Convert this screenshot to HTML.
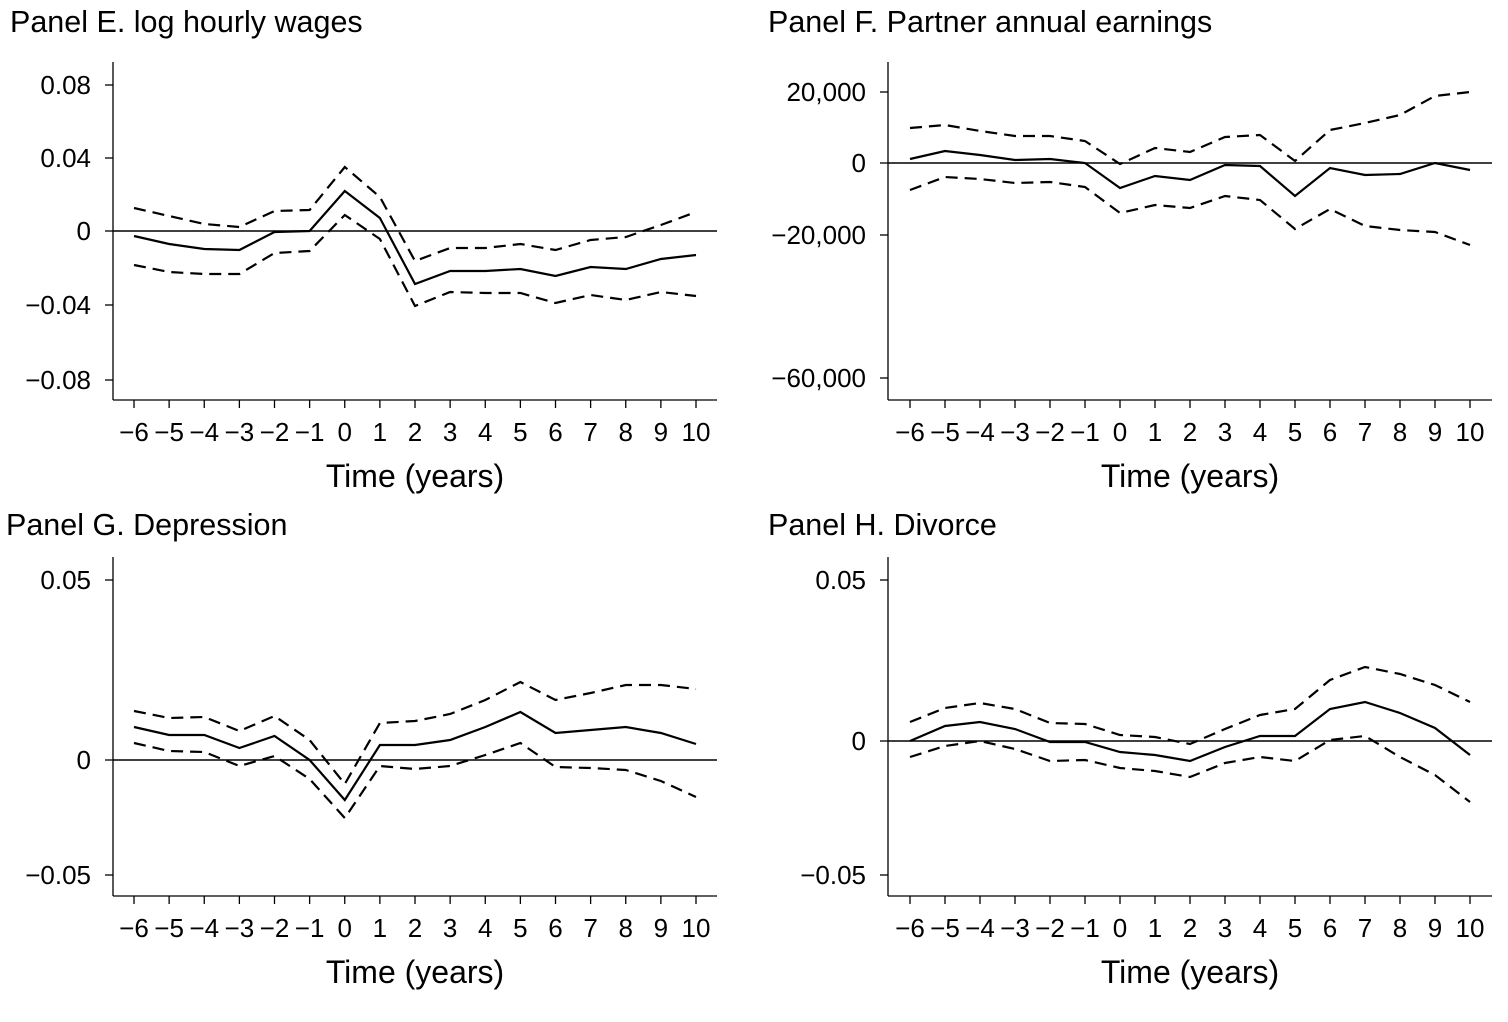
<!DOCTYPE html>
<html><head><meta charset="utf-8"><style>body{margin:0;background:#fff}svg{display:block}text{font-family:"Liberation Sans",Arial,sans-serif;fill:#000}</style></head>
<body>
<svg id="s" width="1508" height="1022" xmlns="http://www.w3.org/2000/svg"></svg>
<script>
const s=document.getElementById('s');let h='';
function panel(o){
 const {ax,x0,dx,top,bot,right,title,tx,ty,yt,zero,sol,up,lo}=o;
 h+=`<text x="${tx}" y="${ty}" font-size="30.5">${title}</text>`;
 h+=`<line x1="${ax}" y1="${top}" x2="${ax}" y2="${bot}" stroke="#000" stroke-width="1.3"/>`;
 h+=`<line x1="${ax}" y1="${bot}" x2="${right}" y2="${bot}" stroke="#000" stroke-width="1.3"/>`;
 h+=`<line x1="${ax}" y1="${zero}" x2="${right}" y2="${zero}" stroke="#000" stroke-width="1.5"/>`;
 yt.forEach(([l,y])=>{h+=`<line x1="${ax-8}" y1="${y}" x2="${ax}" y2="${y}" stroke="#000" stroke-width="1.3"/><text x="${ax-22}" y="${y+9}" font-size="26">${l}</text>`;});
 h=h.replace(/<text x="(\d+)" y="(\d+)" font-size="26">/g,'<text x="$1" y="$2" font-size="26" text-anchor="end">');
 for(let i=0;i<17;i++){const x=x0+dx*i,v=i-6;h+=`<line x1="${x}" y1="${bot}" x2="${x}" y2="${bot+8}" stroke="#000" stroke-width="1.3"/><text x="${x}" y="${bot+41}" font-size="26" text-anchor="middle">${v<0?'−'+(-v):v}</text>`;}
 h+=`<text x="${(x0+x0+16*dx)/2}" y="${bot+87}" font-size="32" text-anchor="middle">Time (years)</text>`;
 const pts=a=>a.map((y,i)=>(x0+dx*i).toFixed(1)+','+y).join(' ');
 h+=`<polyline points="${pts(sol)}" fill="none" stroke="#000" stroke-width="2.2"/>`;
 h+=`<polyline points="${pts(up)}" fill="none" stroke="#000" stroke-width="2.2" stroke-dasharray="12,7"/>`;
 h+=`<polyline points="${pts(lo)}" fill="none" stroke="#000" stroke-width="2.2" stroke-dasharray="12,7"/>`;
}
panel({ax:113,x0:134,dx:35.125,top:62,bot:400,right:717,title:"Panel E. log hourly wages",tx:10,ty:32,zero:231,
 yt:[["0.08",85],["0.04",158],["0",231],["−0.04",305],["−0.08",380]],
 sol:[236,244,249,250,232,231,191,218,284,271,271,269,276,267,269,259,255],
 up:[208,216,224,227,211,210,167,197,261,248,248,244,250,240,237,225,212],
 lo:[265,272,274,274,253,251,215,239,306,292,293,293,303,295,300,292,296]});
panel({ax:888,x0:910,dx:35,top:62,bot:400,right:1492,title:"Panel F. Partner annual earnings",tx:768,ty:32,zero:163,
 yt:[["20,000",92],["0",163],["−20,000",235],["−60,000",378]],
 sol:[159,151,155,160,159,163,188,176,180,165,166,196,168,175,174,163,170],
 up:[128,125,131,136,136,141,164,148,152,137,135,161,130,123,115,96,92],
 lo:[190,177,179,183,182,187,213,205,208,196,200,229,209,226,230,232,245]});
panel({ax:113,x0:134,dx:35.125,top:557,bot:896,right:717,title:"Panel G. Depression",tx:6,ty:535,zero:760,
 yt:[["0.05",580],["0",760],["−0.05",875]],
 sol:[727,735,735,748,736,760,800,745,745,740,727,712,733,730,727,733,744],
 up:[711,718,717,731,716,740,784,723,721,714,700,682,700,693,685,685,689],
 lo:[743,751,752,766,756,779,818,766,769,766,755,743,767,768,770,781,797]});
panel({ax:888,x0:910,dx:35,top:557,bot:896,right:1492,title:"Panel H. Divorce",tx:768,ty:535,zero:741,
 yt:[["0.05",580],["0",741],["−0.05",875]],
 sol:[741,726,722,729,742,742,752,755,761,747,736,736,709,702,713,728,755],
 up:[722,708,703,709,723,724,735,737,744,729,715,709,680,667,674,685,702],
 lo:[757,746,741,749,761,760,768,771,777,763,757,761,740,736,757,775,802]});
s.innerHTML=h;
</script>
</body></html>
